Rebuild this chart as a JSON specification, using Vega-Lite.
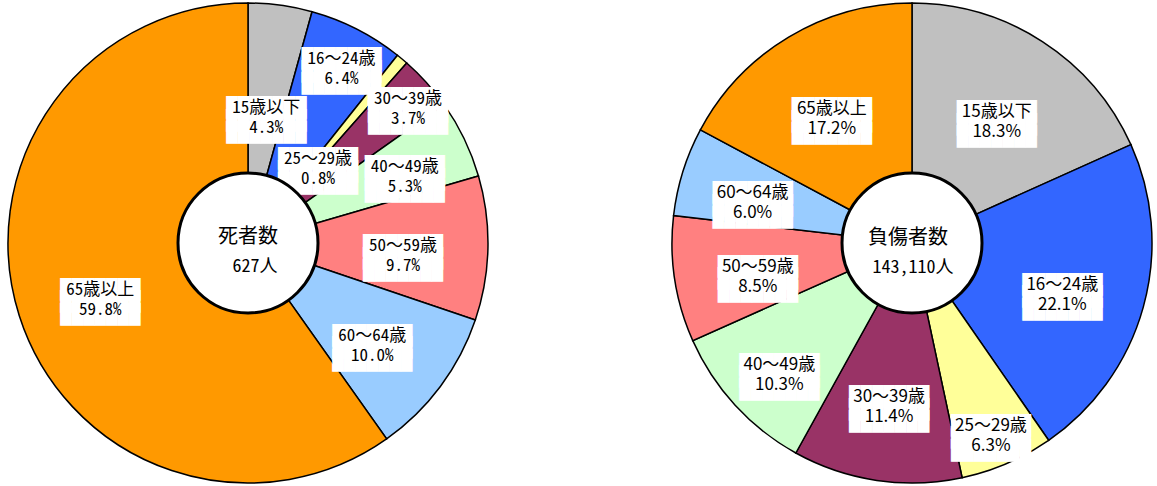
{
  "$schema": "https://vega.github.io/schema/vega-lite/v6.json",
  "padding": {"left": 3, "top": 0, "right": 0, "bottom": 0},
  "background": "white",
  "spacing": 174,
  "config": {"view": {"stroke": null}},
  "datasets": {
    "deaths": [
      {"age": "15歳以下", "pct": 4.3, "label": "15歳以下\n4.3%"},
      {"age": "16～24歳", "pct": 6.4, "label": "16～24歳\n6.4%"},
      {"age": "25～29歳", "pct": 0.8, "label": "25～29歳\n0.8%"},
      {"age": "30～39歳", "pct": 3.7, "label": "30～39歳\n3.7%"},
      {"age": "40～49歳", "pct": 5.3, "label": "40～49歳\n5.3%"},
      {"age": "50～59歳", "pct": 9.7, "label": "50～59歳\n9.7%"},
      {"age": "60～64歳", "pct": 10.0, "label": "60～64歳\n10.0%"},
      {"age": "65歳以上", "pct": 59.8, "label": "65歳以上\n59.8%"}
    ],
    "injured": [
      {"age": "15歳以下", "pct": 18.3, "label": "15歳以下\n18.3%"},
      {"age": "16～24歳", "pct": 22.1, "label": "16～24歳\n22.1%"},
      {"age": "25～29歳", "pct": 6.3, "label": "25～29歳\n6.3%"},
      {"age": "30～39歳", "pct": 11.4, "label": "30～39歳\n11.4%"},
      {"age": "40～49歳", "pct": 10.3, "label": "40～49歳\n10.3%"},
      {"age": "50～59歳", "pct": 8.5, "label": "50～59歳\n8.5%"},
      {"age": "60～64歳", "pct": 6.0, "label": "60～64歳\n6.0%"},
      {"age": "65歳以上", "pct": 17.2, "label": "65歳以上\n17.2%"}
    ],
    "centerL": [{"title": "死者数", "total": "627人"}],
    "centerR": [{"title": "負傷者数", "total": "143,110人"}]
  },
  "hconcat": [
    {
      "width": 490,
      "height": 486,
      "layer": [
        {
          "data": {"name": "deaths"},
          "mark": {"type": "arc", "outerRadius": 240, "innerRadius": 70, "stroke": "black", "strokeWidth": 1.5},
          "encoding": {
            "theta": {"field": "pct", "type": "quantitative", "stack": true},
            "order": {"field": "age", "type": "ordinal", "sort": "ascending"},
            "color": {"field": "age", "type": "nominal", "legend": null,
              "scale": {"domain": ["15歳以下", "16～24歳", "25～29歳", "30～39歳", "40～49歳", "50～59歳", "60～64歳", "65歳以上"],
                        "range": ["#C0C0C0", "#3366FF", "#FFFF99", "#993366", "#CCFFCC", "#FF8080", "#99CCFF", "#FF9900"]}}
          }
        },
        {
          "data": {"name": "deaths"},
          "mark": {"type": "text", "text": ["███████", "███████", "███████"], "font": "DejaVu Sans Mono", "fontSize": 19, "lineHeight": 12.5, "fill": "white", "align": "center", "baseline": "middle",
            "radius": {"expr": "datum.age=='15歳以下'?136:datum.age=='16～24歳'?206:datum.age=='25～29歳'?109:datum.age=='30～39歳'?215:datum.age=='40～49歳'?174:155"}},
          "encoding": {
            "theta": {"field": "pct", "type": "quantitative", "stack": true},
            "order": {"field": "age", "type": "ordinal", "sort": "ascending"},
            "detail": {"field": "age", "type": "nominal"}
          }
        },
        {
          "data": {"name": "deaths"},
          "mark": {"type": "text", "font": "Noto Sans Mono CJK JP, Noto Sans CJK JP, sans-serif", "fontSize": 17, "lineHeight": 20, "lineBreak": "\n", "fill": "black", "align": "center", "baseline": "middle",
            "radius": {"expr": "datum.age=='15歳以下'?136:datum.age=='16～24歳'?206:datum.age=='25～29歳'?109:datum.age=='30～39歳'?215:datum.age=='40～49歳'?174:155"}},
          "encoding": {
            "theta": {"field": "pct", "type": "quantitative", "stack": true},
            "order": {"field": "age", "type": "ordinal", "sort": "ascending"},
            "detail": {"field": "age", "type": "nominal"},
            "text": {"field": "label", "type": "nominal"}
          }
        },
        {
          "data": {"name": "centerL"},
          "mark": {"type": "point", "shape": "circle", "size": 19600, "filled": true, "fill": "white", "stroke": "black", "strokeWidth": 3, "opacity": 1},
          "encoding": {}
        },
        {
          "data": {"name": "centerL"},
          "mark": {"type": "text", "font": "Noto Sans CJK JP", "fontSize": 20, "dy": -6, "align": "center", "baseline": "middle"},
          "encoding": {"text": {"field": "title", "type": "nominal"}}
        },
        {
          "data": {"name": "centerL"},
          "mark": {"type": "text", "font": "Noto Sans Mono CJK JP, Noto Sans CJK JP, sans-serif", "fontSize": 18, "dy": 24, "dx": 7, "align": "center", "baseline": "middle"},
          "encoding": {"text": {"field": "total", "type": "nominal"}}
        }
      ]
    },
    {
      "width": 490,
      "height": 486,
      "layer": [
        {
          "data": {"name": "injured"},
          "mark": {"type": "arc", "outerRadius": 240, "innerRadius": 70, "stroke": "black", "strokeWidth": 1.5},
          "encoding": {
            "theta": {"field": "pct", "type": "quantitative", "stack": true},
            "order": {"field": "age", "type": "ordinal", "sort": "ascending"},
            "color": {"field": "age", "type": "nominal", "legend": null,
              "scale": {"domain": ["15歳以下", "16～24歳", "25～29歳", "30～39歳", "40～49歳", "50～59歳", "60～64歳", "65歳以上"],
                        "range": ["#C0C0C0", "#3366FF", "#FFFF99", "#993366", "#CCFFCC", "#FF8080", "#99CCFF", "#FF9900"]}}
          }
        },
        {
          "data": {"name": "injured"},
          "mark": {"type": "text", "text": ["███████", "███████", "███████"], "font": "DejaVu Sans Mono", "fontSize": 19, "lineHeight": 12.5, "fill": "white", "align": "center", "baseline": "middle",
            "radius": {"expr": "datum.age=='25～29歳'?199:datum.age=='40～49歳'?180:datum.age=='60～64歳'?167:156"}},
          "encoding": {
            "theta": {"field": "pct", "type": "quantitative", "stack": true},
            "order": {"field": "age", "type": "ordinal", "sort": "ascending"},
            "detail": {"field": "age", "type": "nominal"}
          }
        },
        {
          "data": {"name": "injured"},
          "mark": {"type": "text", "font": "Noto Sans CJK JP", "fontSize": 17, "lineHeight": 20, "lineBreak": "\n", "fill": "black", "align": "center", "baseline": "middle",
            "radius": {"expr": "datum.age=='25～29歳'?199:datum.age=='40～49歳'?180:datum.age=='60～64歳'?167:156"}},
          "encoding": {
            "theta": {"field": "pct", "type": "quantitative", "stack": true},
            "order": {"field": "age", "type": "ordinal", "sort": "ascending"},
            "detail": {"field": "age", "type": "nominal"},
            "text": {"field": "label", "type": "nominal"}
          }
        },
        {
          "data": {"name": "centerR"},
          "mark": {"type": "point", "shape": "circle", "size": 19600, "filled": true, "fill": "white", "stroke": "black", "strokeWidth": 3, "opacity": 1},
          "encoding": {}
        },
        {
          "data": {"name": "centerR"},
          "mark": {"type": "text", "font": "Noto Sans CJK JP", "fontSize": 20, "dy": -5, "dx": -4, "align": "center", "baseline": "middle"},
          "encoding": {"text": {"field": "title", "type": "nominal"}}
        },
        {
          "data": {"name": "centerR"},
          "mark": {"type": "text", "font": "Noto Sans Mono CJK JP, Noto Sans CJK JP, sans-serif", "fontSize": 18, "dy": 25, "dx": 1, "align": "center", "baseline": "middle"},
          "encoding": {"text": {"field": "total", "type": "nominal"}}
        }
      ]
    }
  ]
}
